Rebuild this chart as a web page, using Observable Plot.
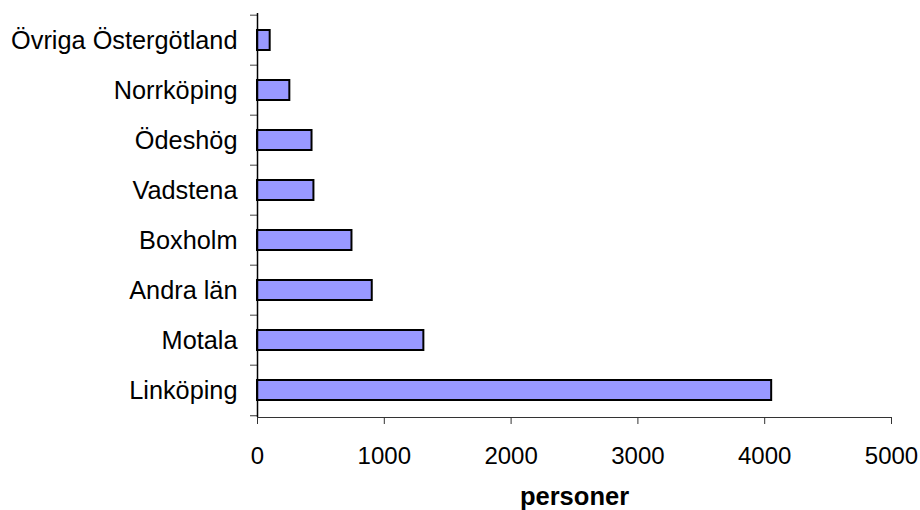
<!DOCTYPE html>
<html>
<head>
<meta charset="utf-8">
<script src="https://cdn.jsdelivr.net/npm/d3@7"></script>
<script src="https://cdn.jsdelivr.net/npm/@observablehq/plot@0.6"></script>
<style>
  html, body { margin: 0; padding: 0; background: #fff; }
</style>
</head>
<body>
<div id="chart"></div>
<script>
// Categories listed top to bottom
const places = ["Övriga Östergötland", "Norrköping", "Ödeshög", "Vadstena", "Boxholm", "Andra län", "Motala", "Linköping"];
const persons = [100, 255, 430, 445, 745, 905, 1312, 4055];
const xTicks = [0, 1000, 2000, 3000, 4000, 5000];
const xLabel = "personer";

const data = places.map((place, i) => ({place, persons: persons[i]}));

const W = 920, H = 510;
const margin = {top: 13, right: 29, bottom: 93, left: 257};
// Vertical distance between neighbouring categories
const step = (H - margin.top - margin.bottom) / places.length;

const chart = Plot.plot({
  width: W,
  height: H,
  marginTop: margin.top,
  marginRight: margin.right,
  marginBottom: margin.bottom,
  marginLeft: margin.left,
  style: {fontFamily: "'Liberation Sans', Arial, sans-serif", fontSize: "24px", color: "#000", background: "#fff"},
  x: {domain: [0, 5000], label: null},
  y: {domain: places, paddingInner: 0.6, paddingOuter: 0.3, label: null},
  marks: [
    Plot.barX(data, {x: "persons", y: "place", fill: "#9999FF", stroke: "#000", strokeWidth: 2}),
    // category labels
    Plot.axisY({tickSize: 0, tickPadding: 20, label: null, fontSize: 25.3}),
    // tick marks between categories
    Plot.axisY({tickSize: 7, text: null, label: null, dy: -step / 2, stroke: "#808080", strokeWidth: 1.5}),
    Plot.axisY({ticks: [places[places.length - 1]], tickSize: 7, text: null, label: null, dy: step / 2, stroke: "#333", strokeWidth: 1}),
    Plot.ruleX([0], {stroke: "#000", strokeWidth: 1.5}),
    Plot.frame({anchor: "bottom", stroke: "#333", strokeWidth: 1}),
    Plot.axisX({ticks: xTicks, tickFormat: d => String(d), tickSize: 7, tickPadding: 22, label: null, stroke: "#333"}),
    Plot.text([xLabel], {text: d => d, frameAnchor: "bottom", dy: 87, fontWeight: "bold", fontSize: 25.5})
  ]
});

document.getElementById("chart").appendChild(chart);
</script>
</body>
</html>
